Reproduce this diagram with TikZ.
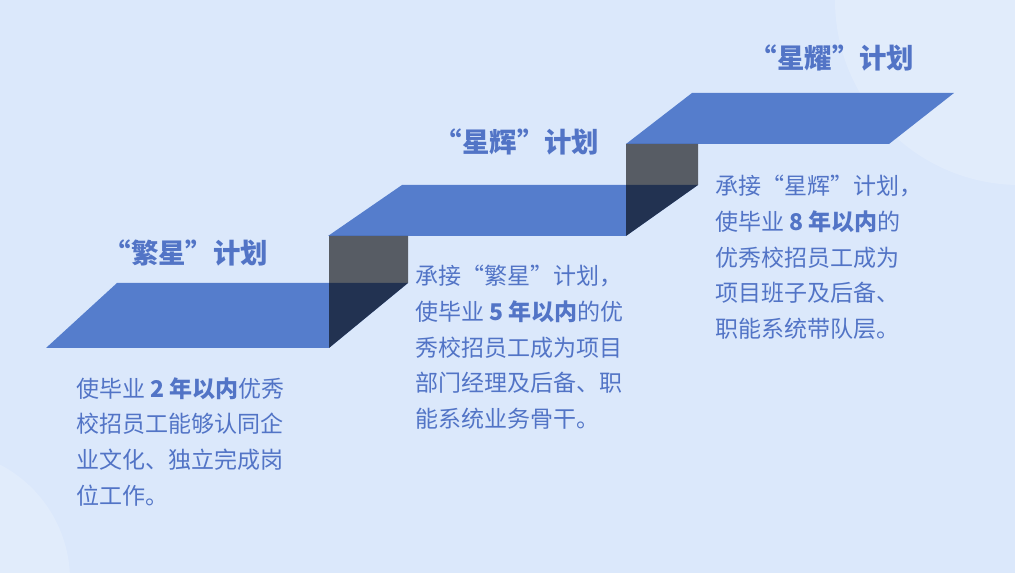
\documentclass[tikz,border=0pt]{standalone}
\usepackage{fontspec}
\setmainfont{Noto Sans CJK SC}
\definecolor{bgblue}{HTML}{DBE8FB}
\definecolor{stepblue}{HTML}{557DCC}
\definecolor{textblue}{HTML}{5274C6}

\begin{document}
\begin{tikzpicture}[x=0.02cm, y=-0.02cm,
  face/.style={fill=stepblue},
  riser/.style={fill=black, fill opacity=0.6},
  title/.style={font=\fontsize{15.6}{18}\selectfont\bfseries, text=textblue},
  body/.style={font=\fontsize{13.1}{20.3}\selectfont, text=textblue, align=left, anchor=north west, inner sep=0pt}
]
  \useasboundingbox (0,0) rectangle (1015,573);
  \fill[bgblue] (0,0) rectangle (1015,573);
  \begin{scope}
    \clip (0,0) rectangle (1015,573);
    \fill[white, opacity=0.18] (1020,0) circle [radius=185];
    \fill[white, opacity=0.18] (-60,580) circle [radius=130];
  \end{scope}
  \foreach \xa/\xb/\xc/\xd/\ya/\yb in {46/329/408/117/348/283, 328/626/698/402/236/185, 626/889/954/692/144/93}
    {\fill[face] (\xa,\ya) -- (\xb,\ya) -- (\xc,\yb) -- (\xd,\yb) -- cycle;}
  \foreach \xa/\xb/\ya/\yb/\yc in {329/408/236/283/348, 626/698/144/185/236}
    {\fill[riser] (\xa,\ya) -- (\xb,\ya) -- (\xb,\yb) -- (\xa,\yc) -- cycle;}
  \node[title] (t1) at (186,253) {“繁星”计划};
  \node[title] (t2) at (517,142) {“星辉”计划};
  \node[title] (t3) at (832,58) {“星耀”计划};
  \node[body] (b1) at (76,377) {使毕业 \textbf{2 年以内}优秀\\校招员工能够认同企\\业文化、独立完成岗\\位工作。};
  \node[body] (b2) at (415,265) {承接“繁星”计划，\\使毕业 \textbf{5 年以内}的优\\秀校招员工成为项目\\部门经理及后备、职\\能系统业务骨干。};
  \node[body] (b3) at (715,175) {承接“星辉”计划，\\使毕业 \textbf{8 年以内}的\\优秀校招员工成为\\项目班子及后备、\\职能系统带队层。};
\end{tikzpicture}
\end{document}
